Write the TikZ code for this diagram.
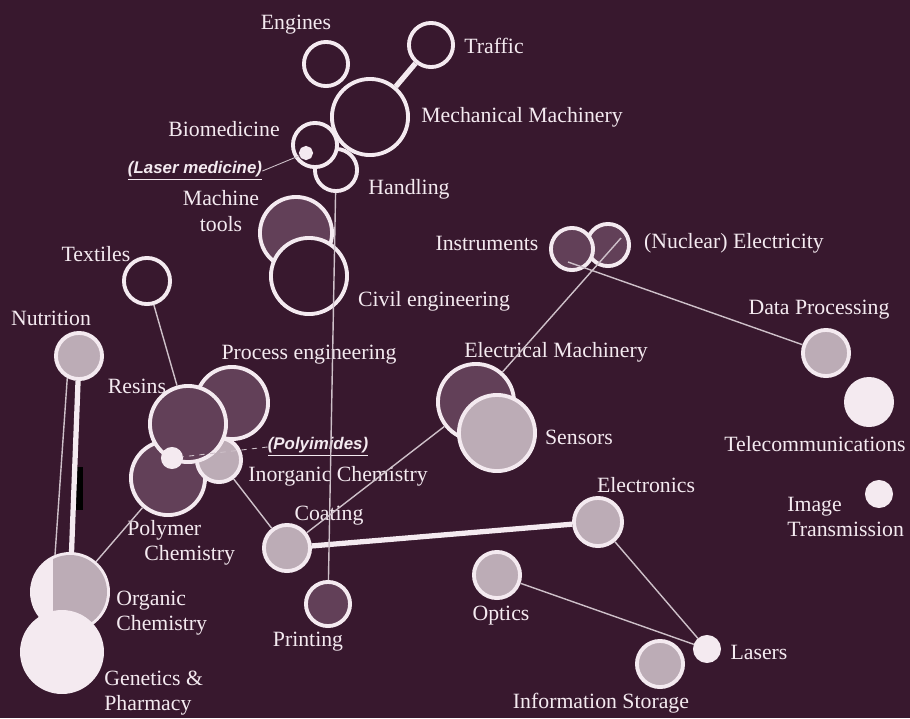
\documentclass[tikz,border=0pt]{standalone}
\usepackage{fontspec}
\setmainfont{Liberation Serif}
\newfontfamily\notefont{Liberation Sans}
\usepackage{tikz}
\usetikzlibrary{calc}

\definecolor{plum}{RGB}{56,24,46}
\definecolor{chalk}{RGB}{244,234,240}
\definecolor{darkdots}{RGB}{98,64,88}
\definecolor{lightdots}{RGB}{188,172,182}

\begin{document}
\begin{tikzpicture}[x=0.02cm, y=-0.02cm,
    field/.style={circle, draw=chalk, line width=2.2pt, inner sep=0pt, fill=plum},
    darkfield/.style={field, fill=darkdots},
    lightfield/.style={field, fill=lightdots},
    brightfield/.style={field, fill=chalk},
    rad/.style={minimum size=#1*0.04cm-2.2pt},
    tag/.style={text=chalk, inner sep=0pt, font=\fontsize{12.4}{14.5}\selectfont},
    note/.style={text=chalk, inner sep=0pt, font=\notefont\bfseries\itshape\fontsize{9.6}{11}\selectfont},
    link/.style={draw=chalk!80!plum, line width=0.8pt},
    bond/.style={draw=chalk, line width=3pt},
]
    \useasboundingbox (0,0) rectangle (910,718);
    \fill[plum] (0,0) rectangle (910,718);

    \node[field, rad=24]       (engines)     at (326,64)  {};
    \node[field, rad=24]       (traffic)     at (431,45)  {};
    \node[field, rad=23]       (handling)    at (336,170) {};
    \node[field, rad=24]       (biomed)      at (315,145) {};
    \node[field, rad=40]       (mech)        at (370,117) {};
    \node[brightfield, rad=7]  (laserdot)    at (306,153) {};
    \node[darkfield, rad=38]   (machtools)   at (296,233) {};
    \node[field, rad=40]       (civil)       at (309,276) {};
    \node[field, rad=25]       (textiles)    at (147,281) {};
    \node[darkfield, rad=23]   (nuclear)     at (608,245) {};
    \node[darkfield, rad=23]   (instr)       at (572,249) {};
    \node[lightfield, rad=25]  (dataproc)    at (826,353) {};
    \node[brightfield, rad=25] (telecom)     at (869,402) {};
    \node[lightfield, rad=25]  (nutrition)   at (79,356)  {};
    \node[darkfield, rad=38]   (process)     at (232,403) {};
    \node[darkfield, rad=39]   (polymer)     at (168,478) {};
    \node[lightfield, rad=24]  (inorganic)   at (219,460) {};
    \node[darkfield, rad=40]   (resins)      at (188,424) {};
    \node[brightfield, rad=11] (polydot)     at (172,458) {};
    \node[darkfield, rad=40]   (elmach)      at (476,402) {};
    \node[lightfield, rad=40]  (sensors)     at (497,433) {};
    \node[brightfield, rad=14] (imagetx)     at (879,494) {};
    \node[lightfield, rad=25]  (coating)     at (287,548) {};
    \node[lightfield, rad=26]  (electronics) at (598,522) {};
    \node[lightfield, rad=25]  (optics)      at (497,575) {};
    \node[darkfield, rad=24]   (printing)    at (328,604) {};
    \node[brightfield, rad=14] (lasers)      at (707,649) {};
    \node[lightfield, rad=25]  (infostore)   at (660,664) {};
    \node[brightfield, rad=40] (organic)     at (70,592)  {};
    \begin{scope}
        \clip (organic.center) circle[radius=0.74cm];
        \fill[lightdots] (53,548) rectangle (112,626);
    \end{scope}
    \node[brightfield, rad=42] (genetics)    at (62,652)  {};

    \node[tag] (engines-l)     at (296,25)  {Engines};
    \node[tag] (traffic-l)     at (494,46)  {Traffic};
    \node[tag] (mech-l)        at (522,117) {Mechanical Machinery};
    \node[tag] (biomed-l)      at (224,129) {Biomedicine};
    \node[note] (lasermed)     at (195,171) {\underline{(Laser medicine)}};
    \node[tag] (handling-l)    at (409,189) {Handling};
    \node[tag, align=center] (machtools-l) at (221,211) {Machine\\tools};
    \node[tag] (civil-l)       at (434,301) {Civil engineering};
    \node[tag] (textiles-l)    at (96,254)  {Textiles};
    \node[tag] (instr-l)       at (487,243) {Instruments};
    \node[tag] (nuclear-l)     at (734,243) {(Nuclear) Electricity};
    \node[tag] (dataproc-l)    at (819,310) {Data Processing};
    \node[tag] (nutrition-l)   at (51,318)  {Nutrition};
    \node[tag] (process-l)     at (309,355) {Process engineering};
    \node[tag] (elmach-l)      at (556,352) {Electrical Machinery};
    \node[tag] (resins-l)      at (137,386) {Resins};
    \node[note] (polyimides)   at (318,447) {\underline{(Polyimides)}};
    \node[tag] (inorganic-l)   at (338,476) {Inorganic Chemistry};
    \node[tag] (sensors-l)     at (579,437) {Sensors};
    \node[tag] (telecom-l)     at (815,444) {Telecommunications};
    \node[tag] (electronics-l) at (646,485) {Electronics};
    \node[tag, align=left, anchor=west] (imagetx-l) at (787,517) {Image\\Transmission};
    \node[tag] (coating-l)     at (329,516) {Coating};
    \node[tag, align=left, anchor=west] (polymer-l) at (127,543) {Polymer\\\hspace*{0.34cm}Chemistry};
    \node[tag, align=left, anchor=west] (organic-l) at (116,613) {Organic\\Chemistry};
    \node[tag] (optics-l)      at (501,616) {Optics};
    \node[tag] (printing-l)    at (308,642) {Printing};
    \node[tag] (lasers-l)      at (759,652) {Lasers};
    \node[tag, align=left, anchor=west] (genetics-l) at (104,693) {Genetics \&\\Pharmacy};
    \node[tag] (infostore-l)   at (601,703) {Information Storage};

    \fill[black] (73,467) rectangle (83,510);
    \draw[bond] (traffic) -- (mech);
    \draw[bond] (nutrition) -- (organic);
    \draw[bond] (coating) -- (electronics);
    \draw[link] (nutrition.-118) -- (organic.112);
    \draw[link] (polymer) -- (organic);
    \draw[link] (textiles) -- (resins);
    \draw[link] (inorganic) -- (coating);
    \draw[link] (elmach) -- (coating);
    \draw[link] ($(nuclear)+(13,-7)$) -- (elmach);
    \draw[link] ($(instr)+(-4,13)$) -- (dataproc);
    \draw[link] (handling) -- (printing);
    \draw[link] (electronics) -- (lasers);
    \draw[link] (optics) -- (lasers);
    \draw[link, line width=0.5pt] (lasermed.east) -- (laserdot);
    \draw[link, line width=0.5pt, dashed] (polyimides.west) -- (polydot);
\end{tikzpicture}
\end{document}
